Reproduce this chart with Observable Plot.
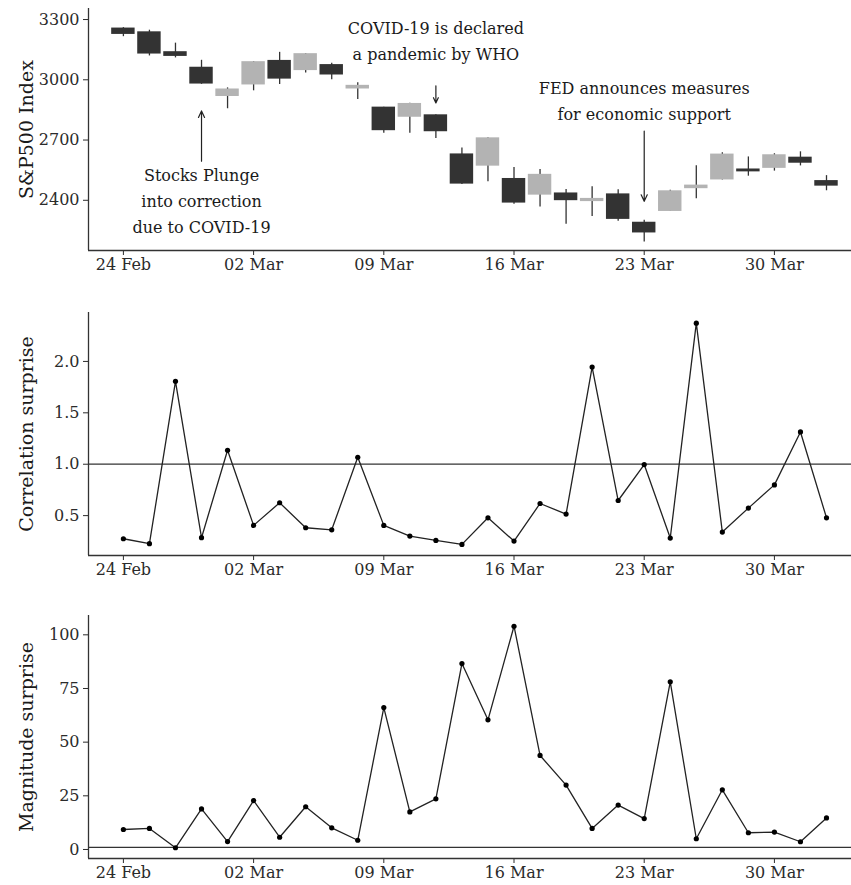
<!DOCTYPE html>
<html>
<head>
<meta charset="utf-8">
<script src="https://cdn.jsdelivr.net/npm/d3@7"></script>
<script src="https://cdn.jsdelivr.net/npm/@observablehq/plot@0.6"></script>
<style>
  html, body { margin: 0; padding: 0; background: #fff; }
  #chart svg { display: block; }
</style>
</head>
<body>
<div id="chart"></div>
<script>
// ---- data ----
const dates = ["2020-02-24","2020-02-25","2020-02-26","2020-02-27","2020-02-28",
  "2020-03-02","2020-03-03","2020-03-04","2020-03-05","2020-03-06",
  "2020-03-09","2020-03-10","2020-03-11","2020-03-12","2020-03-13",
  "2020-03-16","2020-03-17","2020-03-18","2020-03-19","2020-03-20",
  "2020-03-23","2020-03-24","2020-03-25","2020-03-26","2020-03-27",
  "2020-03-30","2020-03-31","2020-04-01"];
const open  = [3257.6,3238.9,3139.9,3062.5,2916.9,2974.3,3096.5,3045.8,3075.7,2954.2,2863.9,2813.5,2825.6,2630.9,2570.0,2508.6,2425.7,2436.5,2393.5,2431.9,2290.7,2344.4,2457.8,2501.3,2555.9,2559.0,2614.7,2498.1];
const high  = [3259.8,3247.0,3182.5,3097.1,2959.7,3091.0,3136.7,3131.0,3083.0,2985.9,2863.9,2882.6,2825.6,2661.0,2711.3,2563.0,2553.9,2453.6,2467.0,2453.0,2300.7,2449.7,2571.4,2637.0,2615.9,2631.8,2641.4,2522.8];
const low   = [3214.7,3118.8,3109.0,2977.4,2855.8,2945.2,2976.6,3034.4,2999.8,2901.5,2734.4,2734.0,2707.2,2478.9,2492.4,2380.9,2367.0,2280.5,2319.8,2295.6,2191.9,2344.4,2407.5,2500.7,2520.0,2545.3,2571.2,2447.5];
const close = [3225.9,3128.2,3116.4,2978.8,2954.2,3090.2,3003.4,3130.1,3023.9,2972.4,2746.6,2882.2,2741.4,2480.6,2711.0,2386.1,2529.2,2398.1,2409.4,2304.9,2237.4,2447.3,2475.6,2630.1,2541.5,2626.7,2584.6,2470.5];
const corrSurprise = [0.275,0.227,1.806,0.285,1.136,0.405,0.625,0.382,0.362,1.068,0.405,0.301,0.259,0.220,0.479,0.252,0.618,0.515,1.945,0.647,0.997,0.282,2.372,0.340,0.573,0.799,1.314,0.479];
const magSurprise  = [9.3,9.8,0.8,18.9,3.7,22.8,5.7,19.9,10.1,4.3,66.1,17.5,23.6,86.6,60.4,104.0,43.8,30.0,9.8,20.7,14.4,78.1,5.0,27.8,7.8,8.1,3.6,14.7];
const annotations = [
  {i: 3,  y: 2408, text: "Stocks Plunge\ninto correction\ndue to COVID-19", y1: 2595, y2: 2845},
  {i: 12, y: 3205, text: "COVID-19 is declared\na pandemic by WHO", y1: 2970, y2: 2885},
  {i: 20, y: 2905, text: "FED announces measures\nfor economic support", y1: 2745, y2: 2395}
];
const yTitles = ["S&P500 Index", "Correlation surprise", "Magnitude surprise"];

// ---- derived ----
const parse = d3.utcParse("%Y-%m-%d");
const fmt = d3.utcFormat("%d %b");
const D = dates.map(parse);
const candles = dates.map((d, i) => ({i, open: open[i], high: high[i], low: low[i], close: close[i], up: close[i] >= open[i]}));
const xTicks = D.map((d, i) => i).filter(i => D[i].getUTCDay() === 1);
const xDomain = [-1.34, 27.96];

const FONT = "DejaVu Serif";
const TXT = "#2b2b2b";
const AX = "#333";

function xAxis() {
  return Plot.axisX({ticks: xTicks, tickFormat: i => fmt(D[i]), tickSize: 5, tickPadding: 3, color: TXT, fontSize: 16, label: null});
}
function titleMark(t) {
  return Plot.text([t], {frameAnchor: "left", dx: -62, rotate: -90, fontSize: 19, fill: "#1a1a1a", textAnchor: "middle", lineAnchor: "middle"});
}
const common = (h, mt, mb) => ({
  width: 851, height: h, marginTop: mt, marginBottom: mb, marginLeft: 88, marginRight: 0,
  style: {fontFamily: FONT, fontSize: "16px", background: "#fff", overflow: "visible"},
  x: {domain: xDomain, axis: null}
});

const chartTop = Plot.plot({
  ...common(288, 8, 38),
  y: {domain: [2150, 3355], axis: null},
  marks: [
    Plot.ruleX(candles, {x: "i", y1: "low", y2: "high", stroke: "#333", strokeWidth: 1.3}),
    Plot.rect(candles, {x1: d => d.i - 0.45, x2: d => d.i + 0.45, y1: "open", y2: "close", fill: d => d.up ? "#b3b3b3" : "#333333"}),
    Plot.text(annotations, {x: "i", y: "y", text: "text", fontSize: 16, lineHeight: 1.62, fill: "#1a1a1a", lineAnchor: "middle"}),
    Plot.arrow(annotations, {x: "i", y1: "y1", y2: "y2", stroke: "#222", strokeWidth: 1.2, headLength: 9, headAngle: 50}),
    Plot.axisY({ticks: [2400, 2700, 3000, 3300], tickFormat: d3.format("d"), tickSize: 5, tickPadding: 4, color: TXT, fontSize: 16, label: null}),
    xAxis(),
    Plot.ruleX([xDomain[0]], {stroke: AX, strokeWidth: 1.3}),
    Plot.ruleY([2150], {stroke: AX, strokeWidth: 1.3}),
    titleMark(yTitles[0])
  ]
});

const chartMid = Plot.plot({
  ...common(302, 24, 35),
  y: {domain: [0.112, 2.476], axis: null},
  marks: [
    Plot.ruleY([1], {stroke: "#333", strokeWidth: 1.3}),
    Plot.line(corrSurprise, {x: (d, i) => i, y: d => d, stroke: "#222", strokeWidth: 1.3}),
    Plot.dot(corrSurprise, {x: (d, i) => i, y: d => d, r: 2.6, fill: "#000", stroke: null}),
    Plot.axisY({ticks: [0.5, 1, 1.5, 2], tickFormat: d3.format(".1f"), tickSize: 5, tickPadding: 4, color: TXT, fontSize: 16, label: null}),
    xAxis(),
    Plot.ruleX([xDomain[0]], {stroke: AX, strokeWidth: 1.3}),
    Plot.ruleY([0.112], {stroke: AX, strokeWidth: 1.3}),
    titleMark(yTitles[1])
  ]
});

const chartBot = Plot.plot({
  ...common(295, 25, 27),
  y: {domain: [-4.2, 109], axis: null},
  marks: [
    Plot.ruleY([1], {stroke: "#333", strokeWidth: 1.3}),
    Plot.line(magSurprise, {x: (d, i) => i, y: d => d, stroke: "#222", strokeWidth: 1.3}),
    Plot.dot(magSurprise, {x: (d, i) => i, y: d => d, r: 2.6, fill: "#000", stroke: null}),
    Plot.axisY({ticks: [0, 25, 50, 75, 100], tickFormat: d3.format("d"), tickSize: 5, tickPadding: 4, color: TXT, fontSize: 16, label: null}),
    xAxis(),
    Plot.ruleX([xDomain[0]], {stroke: AX, strokeWidth: 1.3}),
    Plot.ruleY([-4.2], {stroke: AX, strokeWidth: 1.3}),
    titleMark(yTitles[2])
  ]
});

document.getElementById("chart").append(chartTop, chartMid, chartBot);
</script>
</body>
</html>
